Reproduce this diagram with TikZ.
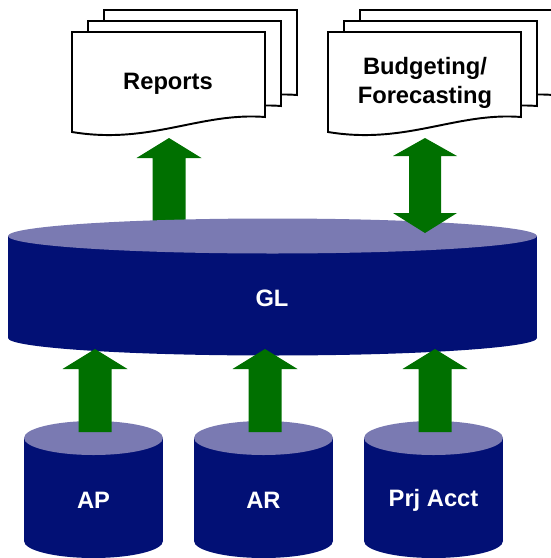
\documentclass[tikz,border=0pt]{standalone}
\usepackage{fontspec}
\setmainfont{Liberation Sans}
\usetikzlibrary{calc,positioning}

\definecolor{dbnavy}{RGB}{2,16,117}
\definecolor{dblav}{RGB}{122,122,178}
\definecolor{arrgreen}{RGB}{0,112,0}

% Datenbank: cx, ytop, ybot, rx, ry
\newcommand{\dbcyl}[5]{%
	\fill[dbnavy] (#1,#3) ellipse [x radius=#4, y radius=#5];
	\fill[dbnavy] (#1-#4,#2) rectangle (#1+#4,#3);
	\fill[dblav] (#1,#2) ellipse [x radius=#4, y radius=#5];
}

% Dokumentseite: linke obere Ecke
\newcommand{\docpage}[2]{%
	\filldraw[docline] (#1,#2) -- (#1+193,#2) -- (#1+193,#2+85)
		.. controls (#1+128,#2+80) and (#1+78,#2+113) .. (#1,#2+100) -- cycle;
}

% Blockpfeil nach oben: Fuss, Spitze
\newcommand{\uparr}[2]{%
	\fill[arrgreen] ($(#1)+(-16.5,0)$) -- ($(#2)+(-16.5,20)$) -- ($(#2)+(-32.5,20)$) -- (#2)
		-- ($(#2)+(32.5,20)$) -- ($(#2)+(16.5,20)$) -- ($(#1)+(16.5,0)$) -- cycle;
}

% Doppelpfeil: obere Spitze, untere Spitze
\newcommand{\dblarr}[2]{%
	\fill[arrgreen] (#1) -- ($(#1)+(32,18)$) -- ($(#1)+(16,18)$) -- ($(#2)+(16,-20)$)
		-- ($(#2)+(32,-20)$) -- (#2) -- ($(#2)+(-32,-20)$) -- ($(#2)+(-16,-20)$)
		-- ($(#1)+(-16,18)$) -- ($(#1)+(-32,18)$) -- cycle;
}

\tikzset{
	docline/.style={draw=black, fill=white, line width=1.1pt, line join=miter},
	doctext/.style={font=\fontsize{13.5pt}{16.5pt}\selectfont\bfseries, text=black, align=center},
	dbtext/.style={font=\fontsize{13.5pt}{16.5pt}\selectfont\bfseries, text=white}
}

\begin{document}
\begin{tikzpicture}[x=0.02cm, y=-0.02cm]
	\useasboundingbox (0,0) rectangle (551,558);

	% Koordinaten
	\coordinate (rep_arr_a) at (169,226);
	\coordinate (rep_arr_b) at (169,138);
	\coordinate (bud_arr_a) at (425,138);
	\coordinate (bud_arr_b) at (425,233);
	\coordinate (ap_arr_a) at (95,432);
	\coordinate (ap_arr_b) at (95,349);
	\coordinate (ar_arr_a) at (265,432);
	\coordinate (ar_arr_b) at (265,349);
	\coordinate (prj_arr_a) at (435,432);
	\coordinate (prj_arr_b) at (435,349);

	% Dokumente
	\docpage{104}{10}
	\docpage{88}{21}
	\docpage{72}{32}
	\docpage{360}{10}
	\docpage{344}{21}
	\docpage{328}{32}
	\node[doctext] (reports) at (168,84) {Reports};
	\node[doctext] (budget) at (425,83) {Budgeting/\\Forecasting};

	% Pfeil zu Reports
	\uparr{rep_arr_a}{rep_arr_b}

	% Datenbanken
	\dbcyl{272.5}{236}{338}{264.5}{17.5}
	\dbcyl{93.5}{438}{541}{69.5}{17}
	\dbcyl{263.5}{438}{541}{69.5}{17}
	\dbcyl{433.5}{438}{541}{69.5}{17}
	\node[dbtext] (gl) at (272,298) {GL};
	\node[dbtext] (ap) at (93.5,500) {AP};
	\node[dbtext] (ar) at (263.5,500) {AR};
	\node[dbtext] (prj) at (433.5,500) {Prj Acct};

	% Pfeile
	\dblarr{bud_arr_a}{bud_arr_b}
	\uparr{ap_arr_a}{ap_arr_b}
	\uparr{ar_arr_a}{ar_arr_b}
	\uparr{prj_arr_a}{prj_arr_b}
\end{tikzpicture}
\end{document}
